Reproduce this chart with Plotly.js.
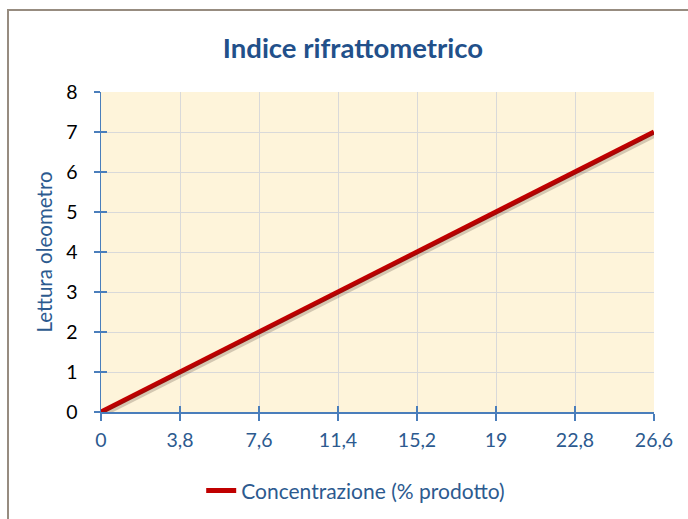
<!DOCTYPE html>
<html>
<head>
<meta charset="utf-8">
<script src="https://cdn.plot.ly/plotly-3.0.1.min.js"></script>
<style>
html,body{margin:0;padding:0;background:#fff;overflow:hidden;}
#wrap{position:relative;width:688px;height:519px;}
#chart{position:absolute;left:0;top:0;width:688px;height:519px;}
#frame{position:absolute;left:7px;top:9px;width:700px;height:600px;border-left:2px solid #978c80;border-top:2px solid #978c80;pointer-events:none;}
</style>
</head>
<body>
<div id="wrap"><div id="chart"></div><div id="frame"></div></div>
<script>
const categories = [0, 3.8, 7.6, 11.4, 15.2, 19, 22.8, 26.6];
const tickLabels = ["0", "3,8", "7,6", "11,4", "15,2", "19", "22,8", "26,6"];
const letturaValues = [0, 1, 2, 3, 4, 5, 6, 7];
const yTicks = [0, 1, 2, 3, 4, 5, 6, 7, 8];
const seriesName = "Concentrazione (% prodotto)";

const FONT = "Lato, 'Open Sans', sans-serif";
const AXIS_BLUE = "#4a7ebb";
const TEXT_BLUE = "#2c5a8f";
const xRange = [0, 26.6];
const yRange = [0, 8];

const traces = [
  { // soft shadow
    x: categories, y: letturaValues, xaxis: 'x2', yaxis: 'y2',
    mode: 'lines', line: {color: 'rgba(60,40,30,0.22)', width: 5},
    showlegend: false, hoverinfo: 'skip'
  },
  {
    x: categories, y: letturaValues, name: seriesName,
    mode: 'lines', line: {color: '#c00000', width: 5},
    showlegend: true
  },
  { // carrier for the inner half of the crossing tick marks
    x: categories, y: letturaValues, xaxis: 'x3', yaxis: 'y3',
    mode: 'lines', line: {color: 'rgba(0,0,0,0)', width: 0},
    showlegend: false, hoverinfo: 'skip'
  }
];

const layout = {
  width: 688, height: 519,
  margin: {l: 101, r: 34, t: 92, b: 107},
  paper_bgcolor: 'rgba(0,0,0,0)',
  plot_bgcolor: '#fef4da',
  font: {family: FONT, size: 19, color: '#000'},
  title: {
    text: '<b>Indice rifrattometrico</b>',
    font: {family: FONT, size: 27.5, color: '#22508a'},
    x: 0.513, xref: 'container', xanchor: 'center',
    y: 0.907, yref: 'container', yanchor: 'middle'
  },
  xaxis: {
    range: xRange, tickmode: 'array', tickvals: categories, ticktext: tickLabels,
    showgrid: true, gridcolor: '#d9d9d9', gridwidth: 1, zeroline: false,
    showline: true, linecolor: AXIS_BLUE, linewidth: 1.5,
    ticks: 'outside', ticklen: 7, tickcolor: AXIS_BLUE, tickwidth: 1.5,
    tickfont: {family: FONT, size: 19.5, color: TEXT_BLUE}, ticklabelstandoff: 3,
    fixedrange: true
  },
  yaxis: {
    range: yRange, tickmode: 'array', tickvals: yTicks,
    showgrid: true, gridcolor: '#d9d9d9', gridwidth: 1, zeroline: false,
    showline: true, linecolor: AXIS_BLUE, linewidth: 1.5,
    ticks: 'outside', ticklen: 6, tickcolor: AXIS_BLUE, tickwidth: 1.5,
    tickfont: {family: FONT, size: 19.5, color: '#000'}, ticklabelstandoff: 12,
    title: {text: 'Lettura oleometro', font: {family: FONT, size: 20.5, color: TEXT_BLUE}, standoff: 8},
    fixedrange: true
  },
  xaxis2: {overlaying: 'x', anchor: 'y2', range: [xRange[0] - 0.09, xRange[1] - 0.09], visible: false, fixedrange: true},
  yaxis2: {overlaying: 'y', anchor: 'x2', range: [yRange[0] + 0.06, yRange[1] + 0.06], visible: false, fixedrange: true},
  xaxis3: {overlaying: 'x', anchor: 'y3', range: xRange, tickmode: 'array', tickvals: categories,
    ticks: 'inside', ticklen: 6, tickcolor: AXIS_BLUE, tickwidth: 1.5, showticklabels: false,
    showgrid: false, zeroline: false, showline: false, side: 'bottom', fixedrange: true},
  yaxis3: {overlaying: 'y', anchor: 'x3', range: yRange, tickmode: 'array', tickvals: yTicks,
    ticks: 'inside', ticklen: 6, tickcolor: AXIS_BLUE, tickwidth: 1.5, showticklabels: false,
    showgrid: false, zeroline: false, showline: false, side: 'left', fixedrange: true},
  legend: {
    orientation: 'h', x: 0.517, xref: 'container', xanchor: 'center',
    y: 0.054, yref: 'container', yanchor: 'middle',
    font: {family: FONT, size: 21, color: TEXT_BLUE}, bgcolor: 'rgba(0,0,0,0)'
  },
  showlegend: true
};

Plotly.newPlot('chart', traces, layout, {displayModeBar: false, staticPlot: true});
</script>
</body>
</html>
